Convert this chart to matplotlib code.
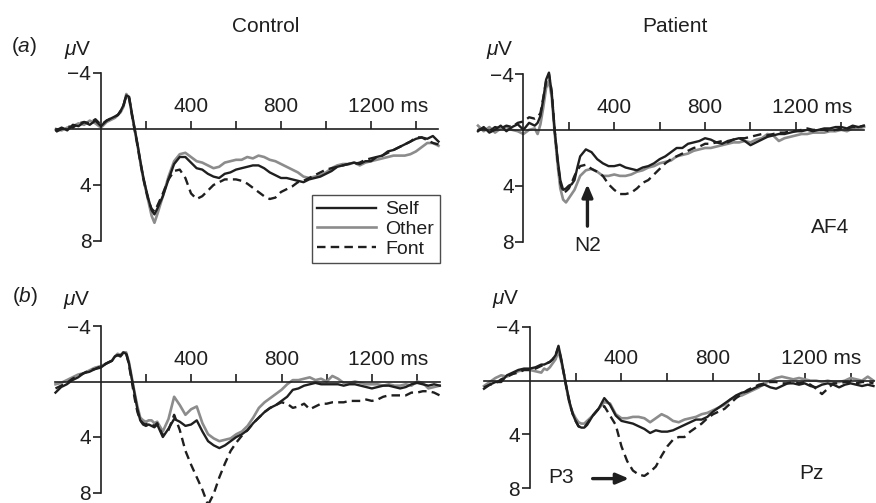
import numpy as np
import matplotlib
matplotlib.use('Agg')
import matplotlib.pyplot as plt

plt.rcParams['font.family'] = ['Liberation Sans', 'DejaVu Sans']
plt.rcParams['mathtext.fontset'] = 'custom'
plt.rcParams['mathtext.rm'] = 'Liberation Sans'
plt.rcParams['mathtext.it'] = 'Liberation Sans:italic'

# sample times (ms): coarse baseline, finer around the early peaks, coarse after
times = np.concatenate([np.arange(-200, 51, 25), np.arange(62.5, 251, 12.5), np.arange(275, 1501, 25)])

# (a) AF4, control
ctrl_af4_self = [0.1, -0.1, 0.1, -0.3, -0.2, -0.5, -0.3, -0.6, -0.2, -0.6, -0.8,
                 -0.9, -1.0, -1.3, -1.7, -2.4, -2.3, -1.1, 0.0, 1.1, 2.3, 3.4, 4.3, 5.1, 5.8, 6.1, 5.7,
                 4.8, 3.6, 2.5, 2.0, 2.0, 2.4, 2.8, 2.9, 3.2, 3.4,
                 3.5, 3.2, 3.1, 2.9, 2.8, 2.7, 2.6, 2.6, 2.8, 3.1,
                 3.3, 3.5, 3.5, 3.6, 3.7, 3.8, 3.6, 3.5, 3.4, 3.2,
                 3.0, 2.7, 2.6, 2.5, 2.4, 2.5, 2.3, 2.3, 2.0, 1.9,
                 1.6, 1.5, 1.3, 1.1, 0.9, 0.7, 0.6, 0.7, 0.5, 0.9]
ctrl_af4_other = [0.0, 0.1, -0.1, -0.2, -0.4, -0.3, -0.6, -0.4, -0.1, -0.5, -0.7,
                  -0.8, -1.0, -1.2, -1.6, -2.5, -2.2, -1.0, 0.1, 1.2, 2.4, 3.5, 4.4, 5.3, 6.2, 6.7, 6.1,
                  4.8, 3.4, 2.3, 1.8, 1.7, 2.0, 2.3, 2.4, 2.6, 2.8,
                  2.7, 2.4, 2.3, 2.2, 2.2, 2.0, 2.1, 1.9, 2.0, 2.2,
                  2.3, 2.5, 2.7, 2.9, 3.1, 3.4, 3.5, 3.4, 3.3, 3.1,
                  2.8, 2.6, 2.5, 2.5, 2.4, 2.6, 2.4, 2.3, 2.2, 2.1,
                  2.0, 1.9, 1.9, 1.9, 1.8, 1.6, 1.3, 1.0, 1.0, 1.2]
ctrl_af4_font = [0.2, 0.0, -0.2, -0.1, -0.4, -0.5, -0.4, -0.7, -0.3, -0.6, -0.8,
                 -0.9, -1.0, -1.3, -1.7, -2.4, -2.2, -1.0, 0.1, 1.2, 2.4, 3.5, 4.4, 5.2, 5.7, 5.9, 5.5,
                 4.6, 3.6, 3.0, 2.9, 3.5, 4.6, 5.0, 4.8, 4.4, 4.0,
                 3.8, 3.6, 3.6, 3.6, 3.7, 3.9, 4.2, 4.5, 4.8, 5.0,
                 4.9, 4.5, 4.3, 4.1, 3.8, 3.7, 3.5, 3.3, 3.1, 2.9,
                 2.8, 2.7, 2.6, 2.5, 2.5, 2.4, 2.2, 2.1, 2.0, 1.9,
                 1.7, 1.5, 1.3, 1.1, 0.9, 0.6, 0.6, 0.8, 1.0, 1.1]

# (a) AF4, patient
pat_af4_self = [0.1, -0.2, 0.2, 0.0, -0.3, 0.1, -0.2, -0.4, 0.0, -0.5, -0.3,
                -0.5, -1.0, -2.2, -3.6, -4.1, -2.6, 0.0, 2.0, 3.6, 4.3, 4.2, 4.0, 3.9, 3.6, 2.7, 1.9,
                1.4, 1.6, 2.1, 2.4, 2.6, 2.6, 2.5, 2.7, 2.8, 2.9,
                2.7, 2.6, 2.4, 2.1, 1.9, 1.6, 1.3, 1.3, 1.0, 0.9,
                0.8, 0.6, 0.7, 0.9, 1.0, 0.8, 0.7, 0.6, 0.8, 1.1,
                0.9, 0.7, 0.5, 0.4, 0.3, 0.3, 0.2, 0.1, 0.1, 0.0,
                0.1, 0.0, -0.1, -0.1, -0.2, -0.2, -0.1, -0.3, -0.2, -0.3]
pat_af4_other = [-0.3, 0.1, -0.2, 0.2, -0.1, -0.2, 0.0, 0.1, 0.3, 0.0, -0.1,
                 0.3, -0.4, -1.6, -3.0, -3.5, -2.3, 0.2, 2.4, 4.2, 5.0, 5.2, 4.9, 4.6, 4.3, 3.8, 3.3,
                 2.9, 2.8, 3.0, 3.3, 3.3, 3.2, 3.3, 3.3, 3.2, 3.0,
                 2.9, 2.7, 2.6, 2.4, 2.3, 2.2, 1.9, 1.8, 1.7, 1.5,
                 1.4, 1.3, 1.3, 1.2, 1.1, 1.0, 0.9, 0.9, 0.8, 0.9,
                 0.7, 0.6, 0.3, 0.4, 0.8, 0.6, 0.5, 0.4, 0.3, 0.3,
                 0.2, 0.2, 0.2, 0.1, 0.1, 0.0, 0.1, -0.1, -0.1, -0.2]
pat_af4_font = [0.0, -0.1, 0.1, -0.2, -0.1, -0.3, -0.2, -0.5, -0.6, -0.9, -0.8,
                -0.9, -1.2, -2.3, -3.5, -4.0, -2.7, 0.0, 2.1, 3.8, 4.5, 4.4, 4.2, 3.8, 3.3, 2.9, 2.6,
                2.5, 2.8, 3.0, 3.3, 3.9, 4.3, 4.6, 4.6, 4.5, 4.2,
                3.8, 3.6, 3.2, 2.8, 2.4, 2.1, 1.9, 1.7, 1.5, 1.3,
                1.2, 1.0, 1.0, 0.9, 0.8, 0.9, 0.7, 0.6, 0.6, 0.5,
                0.4, 0.3, 0.4, 0.3, 0.2, 0.2, 0.1, 0.1, 0.0, -0.1,
                0.0, 0.0, 0.0, 0.1, 0.0, -0.1, -0.1, -0.2, -0.2, -0.3]

# (b) Pz, control
ctrl_pz_self = [0.8, 0.4, 0.2, -0.1, -0.3, -0.6, -0.7, -0.9, -1.0, -1.3, -1.5,
                -1.8, -1.9, -1.8, -2.1, -2.0, -1.3, -0.2, 0.9, 2.0, 2.8, 3.1, 3.2, 3.1, 3.2, 3.3, 3.1,
                4.0, 3.4, 2.7, 2.9, 3.2, 3.1, 2.8, 3.6, 4.3, 4.6,
                4.8, 4.6, 4.3, 4.0, 3.8, 3.5, 3.0, 2.6, 2.2, 1.9,
                1.7, 1.4, 1.1, 0.6, 0.5, 0.3, 0.2, 0.1, 0.2, 0.2,
                0.2, 0.2, 0.3, 0.2, 0.2, 0.3, 0.4, 0.5, 0.4, 0.3,
                0.3, 0.4, 0.5, 0.4, 0.2, 0.1, 0.2, 0.3, 0.2, 0.3]
ctrl_pz_other = [0.2, 0.1, -0.1, -0.3, -0.5, -0.6, -0.8, -1.0, -1.1, -1.3, -1.5,
                 -1.8, -2.0, -1.9, -2.1, -2.1, -1.4, -0.3, 0.8, 1.8, 2.6, 2.8, 2.9, 2.8, 2.8, 3.0, 2.9,
                 3.6, 2.7, 1.1, 1.7, 2.4, 2.0, 1.8, 3.0, 3.8, 4.1,
                 4.3, 4.2, 4.1, 3.8, 3.6, 3.2, 2.6, 1.9, 1.5, 1.2,
                 0.9, 0.6, 0.2, -0.1, -0.1, -0.2, -0.3, -0.1, -0.2, 0.0,
                 -0.4, -0.2, 0.1, 0.1, 0.0, 0.1, 0.2, 0.2, 0.2, 0.3,
                 0.2, 0.3, 0.3, 0.2, 0.3, 0.0, 0.1, 0.5, 0.4, 0.3]
ctrl_pz_font = [0.5, 0.3, 0.1, -0.2, -0.4, -0.6, -0.8, -0.9, -1.1, -1.3, -1.5,
                -1.8, -1.9, -1.9, -2.0, -2.1, -1.2, 0.0, 1.2, 2.2, 2.8, 3.0, 3.1, 3.0, 3.1, 3.2, 3.0,
                3.9, 3.5, 2.4, 3.5, 5.0, 6.0, 6.9, 7.8, 8.9, 8.1,
                6.9, 5.9, 5.0, 4.4, 3.9, 3.5, 3.0, 2.6, 2.2, 1.9,
                1.7, 1.5, 1.6, 1.9, 1.8, 1.6, 2.0, 1.8, 1.6, 1.6,
                1.5, 1.5, 1.5, 1.4, 1.4, 1.4, 1.3, 1.4, 1.3, 1.1,
                1.0, 1.0, 1.0, 1.0, 0.8, 0.8, 0.7, 0.7, 0.8, 1.0]

# (b) Pz, patient
pat_pz_self = [0.6, 0.3, 0.1, 0.1, -0.4, -0.6, -0.8, -0.9, -0.9, -1.0, -1.2,
               -1.2, -1.3, -1.4, -1.6, -1.9, -2.6, -1.6, -0.4, 0.7, 1.7, 2.5, 3.0, 3.4, 3.5, 3.5, 3.3,
               2.6, 2.1, 1.3, 1.8, 2.6, 3.0, 3.1, 3.2, 3.4, 3.6,
               3.9, 3.7, 3.8, 3.8, 3.7, 3.5, 3.3, 3.1, 2.9, 2.9,
               2.7, 2.3, 2.0, 1.7, 1.4, 1.1, 0.9, 0.8, 0.6, 0.4,
               0.3, 0.5, 0.6, 0.4, 0.2, 0.2, 0.3, 0.2, 0.4, 0.5,
               0.3, 0.2, 0.3, 0.5, 0.3, 0.2, 0.3, 0.4, 0.3, 0.4]
pat_pz_other = [0.4, 0.1, -0.2, -0.4, -0.3, -0.5, -0.7, -0.8, -0.8, -0.7, -0.6,
                -0.9, -0.8, -1.0, -1.3, -1.6, -2.2, -1.4, -0.4, 0.8, 1.8, 2.4, 2.8, 3.1, 3.2, 3.2, 3.0,
                2.6, 2.1, 1.6, 1.7, 2.5, 2.8, 2.8, 2.7, 2.7, 2.8,
                3.1, 2.8, 2.5, 2.7, 3.0, 3.1, 2.9, 2.8, 2.7, 2.5,
                2.4, 2.2, 2.0, 1.8, 1.4, 1.2, 1.1, 0.9, 0.7, 0.5,
                0.2, 0.0, -0.2, -0.3, -0.2, -0.1, -0.2, -0.1, 0.0, 0.0,
                0.1, 0.0, 0.1, 0.1, 0.0, -0.2, -0.1, 0.0, -0.3, 0.0]
pat_pz_font = [0.5, 0.3, 0.2, -0.1, -0.3, -0.5, -0.6, -0.8, -0.8, -0.9, -1.1,
               -1.2, -1.3, -1.4, -1.6, -1.9, -2.5, -1.5, -0.4, 0.8, 1.8, 2.5, 3.0, 3.4, 3.5, 3.5, 3.2,
               2.6, 2.1, 1.9, 2.6, 3.3, 4.9, 6.0, 6.7, 7.0, 7.1,
               6.8, 6.4, 5.6, 4.9, 4.4, 4.2, 4.2, 3.8, 3.5, 3.2,
               2.8, 2.5, 2.3, 2.1, 1.7, 1.3, 1.0, 0.7, 0.5, 0.3,
               0.2, 0.1, 0.1, 0.2, 0.2, 0.1, 0.2, 0.1, 0.3, 0.6,
               1.0, 0.6, 0.2, 0.2, 0.1, 0.1, 0.2, 0.1, 0.1, 0.2]

x_ticks = [200, 400, 600, 800, 1000, 1200, 1400]
y_ticks = [-4, 4, 8]
y_tick_labels = ['\u22124', '4', '8']

INK = '#1f1f1f'
GREY = '#8c8c8c'
FS = 15
W, H = 876, 503

fig = plt.figure(figsize=(W / 100, H / 100), dpi=100)


def make_panel(left, right, top, bottom, self_v, other_v, font_v):
    ax = fig.add_axes([left / W, 1 - bottom / H, (right - left) / W, (bottom - top) / H])
    ax.patch.set_alpha(0)
    ax.set_xlim(-200, 1500)
    ax.set_ylim(8, -4)
    for s in ['top', 'right']:
        ax.spines[s].set_visible(False)
    ax.spines['left'].set_position(('data', 0))
    ax.spines['bottom'].set_position(('data', 0))
    for s in ['left', 'bottom']:
        ax.spines[s].set_linewidth(1.2)
        ax.spines[s].set_color(INK)
    ax.set_xticks(x_ticks)
    ax.tick_params(axis='x', direction='in', length=6, width=1.2, color=INK, labelbottom=False)
    ax.set_yticks(y_ticks)
    ax.set_yticklabels(y_tick_labels)
    ax.tick_params(axis='y', direction='out', length=6, width=1.2, color=INK,
                   labelsize=FS, labelcolor=INK, pad=1)
    h_other, = ax.plot(times, other_v, color=GREY, lw=1.9, clip_on=False, label='Other')
    h_self, = ax.plot(times, self_v, color=INK, lw=1.7, clip_on=False, label='Self')
    h_font, = ax.plot(times, font_v, color=INK, lw=1.7, dashes=(3.6, 2.2), clip_on=False, label='Font')
    for t, lab, dx in [(400, '400', 0), (800, '800', 0), (1200, '1200 ms', 12)]:
        ax.annotate(lab, xy=(t, 0), xytext=(dx, 9), textcoords='offset points',
                    ha='center', va='bottom', fontsize=FS, color=INK)
    return ax, (h_self, h_other, h_font)


ax_tl, handles = make_panel(56, 438.5, 73, 241, ctrl_af4_self, ctrl_af4_other, ctrl_af4_font)
ax_tr, _ = make_panel(478, 864, 74, 241.5, pat_af4_self, pat_af4_other, pat_af4_font)
ax_bl, _ = make_panel(55.5, 439.7, 326, 492.5, ctrl_pz_self, ctrl_pz_other, ctrl_pz_font)
ax_br, _ = make_panel(484, 873.5, 327, 488, pat_pz_self, pat_pz_other, pat_pz_font)

# column titles, panel letters, units
fig.text(266 / W, 1 - 27 / H, 'Control', ha='center', va='center', fontsize=FS, color=INK)
fig.text(675 / W, 1 - 27 / H, 'Patient', ha='center', va='center', fontsize=FS, color=INK)
fig.text(24 / W, 1 - 47 / H, r'($\mathit{a}$)', ha='center', va='center', fontsize=FS, color=INK)
fig.text(25 / W, 1 - 297 / H, r'($\mathit{b}$)', ha='center', va='center', fontsize=FS, color=INK)
for x, y in [(78, 50), (500, 50), (77, 300), (506, 299)]:
    fig.text(x / W, 1 - y / H, r'$\mu$V', ha='center', va='center', fontsize=FS, color=INK)

# legend
leg = ax_tl.legend(handles=handles, loc='upper left', bbox_to_anchor=(311.5 / W, 1 - 195 / H),
                   bbox_transform=fig.transFigure, frameon=True, fancybox=False, fontsize=14,
                   handlelength=3.0, handletextpad=0.5, labelspacing=0.1, borderpad=0.3,
                   borderaxespad=0)
leg.get_frame().set_edgecolor(INK)
leg.get_frame().set_linewidth(1.0)
for t in leg.get_texts():
    t.set_color(INK)

# annotations
ax_tr.annotate('', xy=(282, 3.7), xytext=(282, 7.1),
               arrowprops=dict(arrowstyle='-|>,head_length=0.75,head_width=0.32', color=INK, lw=2.4))
ax_tr.text(282, 8.3, 'N2', ha='center', va='center', fontsize=FS, color=INK, clip_on=False)
ax_tr.text(1350, 7.0, 'AF4', ha='center', va='center', fontsize=FS, color=INK)
ax_br.annotate('', xy=(445, 7.3), xytext=(262, 7.3),
               arrowprops=dict(arrowstyle='-|>,head_length=0.75,head_width=0.32', color=INK, lw=2.4))
ax_br.text(135, 7.2, 'P3', ha='center', va='center', fontsize=FS, color=INK)
ax_br.text(1230, 6.9, 'Pz', ha='center', va='center', fontsize=FS, color=INK)

fig.savefig('out.png', dpi=100)
